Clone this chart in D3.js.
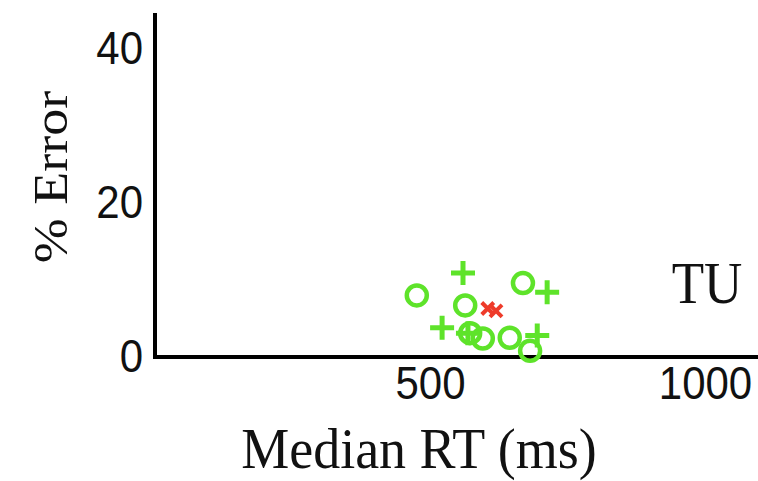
<!DOCTYPE html>
<html>
<head>
<meta charset="utf-8">
<script src="https://cdn.jsdelivr.net/npm/d3@7"></script>
<style>
  body { margin: 0; background: #fff; }
  .tick text {
    font-family: "Liberation Sans", Arial, sans-serif; font-size: 42px; fill: #111;
    transform-box: fill-box; transform-origin: center; transform: scaleY(1.1);
  }
  .title {
    font-family: "Liberation Serif", "Times New Roman", serif; fill: #111;
  }
</style>
</head>
<body>
<div id="chart-area"></div>
<script>
// values
let circleRT  = [476, 564, 669, 596, 645, 682, 573];
let circleErr = [8.0, 6.7, 9.6, 2.4, 2.5, 0.8, 3.1];
let plusRT    = [560, 713, 522, 695, 569];
let plusErr   = [10.9, 8.4, 3.8, 2.8, 3.1];
let crossRT   = [605, 620];
let crossErr  = [6.3, 6.0];
let xTicks = [500, 1000];
let yTicks = [0, 20, 40];

let W = 758, H = 481;
let green = "#5ee32a", red = "#ee3b2a";

let svg = d3.select("#chart-area").append("svg")
	.attr("width", W)
	.attr("height", H);

let x = d3.scaleLinear().domain([0, 1000]).range([155, 705]);
let y = d3.scaleLinear().domain([0, 40]).range([357, 49]);

// Axes
let xAxis = d3.axisBottom(x).tickValues(xTicks).tickFormat(d3.format("d")).tickSize(0).tickPadding(11);
let yAxis = d3.axisLeft(y).tickValues(yTicks).tickSize(0).tickPadding(12);

let gx = svg.append("g").attr("transform", "translate(0," + y(0) + ")").call(xAxis);
gx.select(".domain").remove();
let gy = svg.append("g").attr("transform", "translate(" + x(0) + ",0)").call(yAxis);
gy.select(".domain").remove();

// axis lines
svg.append("line")
	.attr("x1", x(0)).attr("x2", W)
	.attr("y1", y(0)).attr("y2", y(0))
	.attr("stroke", "#000").attr("stroke-width", 4);
svg.append("line")
	.attr("x1", x(0)).attr("x2", x(0))
	.attr("y1", y(0) + 2).attr("y2", 13)
	.attr("stroke", "#000").attr("stroke-width", 4);

// Markers
svg.selectAll(".circ")
	.data(d3.zip(circleRT, circleErr))
	.enter().append("circle")
	.attr("class", "circ")
	.attr("cx", d => x(d[0]))
	.attr("cy", d => y(d[1]))
	.attr("r", 10)
	.attr("fill", "none")
	.attr("stroke", green)
	.attr("stroke-width", 4.5);

let plusPath = "M-12,0H12M0,-12V12";
svg.selectAll(".plus")
	.data(d3.zip(plusRT, plusErr))
	.enter().append("path")
	.attr("class", "plus")
	.attr("transform", d => "translate(" + x(d[0]) + "," + y(d[1]) + ")")
	.attr("d", plusPath)
	.attr("stroke", green)
	.attr("stroke-width", 5);

let crossPath = "M-6,-6L6,6M-6,6L6,-6";
svg.selectAll(".cross")
	.data(d3.zip(crossRT, crossErr))
	.enter().append("path")
	.attr("class", "cross")
	.attr("transform", d => "translate(" + x(d[0]) + "," + y(d[1]) + ")")
	.attr("d", crossPath)
	.attr("stroke", red)
	.attr("stroke-width", 4);

// Titles
svg.append("text")
	.attr("class", "title")
	.attr("transform", "translate(419,468) scale(1,1.05)")
	.attr("text-anchor", "middle")
	.style("font-size", "54px")
	.text("Median RT (ms)");

svg.append("text")
	.attr("class", "title")
	.attr("transform", "translate(67,177) rotate(-90) scale(1,0.9)")
	.attr("text-anchor", "middle")
	.style("font-size", "54px")
	.text("% Error");

svg.append("text")
	.attr("class", "title")
	.attr("transform", "translate(707,303) scale(1,1.1)")
	.attr("text-anchor", "middle")
	.style("font-size", "53px")
	.text("TU");
</script>
</body>
</html>
